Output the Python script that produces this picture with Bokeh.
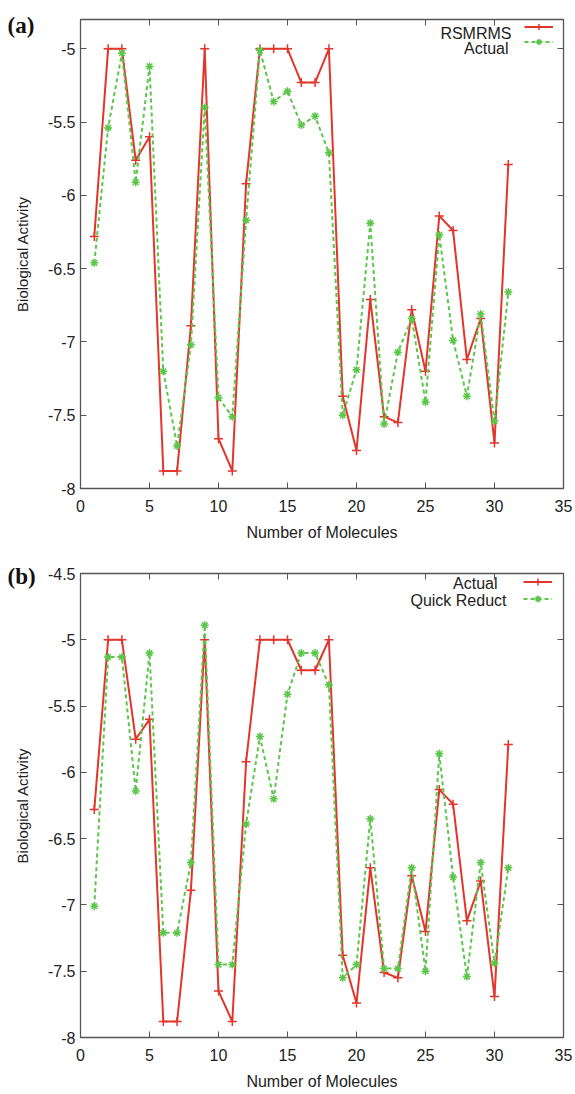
from bokeh.plotting import figure
from bokeh.layouts import column
from bokeh.models import (FixedTicker, LinearAxis, Range1d, Legend, LegendItem,
                          Label, CustomJSTickFormatter)
from bokeh.core.properties import value
from bokeh.embed import file_html
from bokeh.resources import INLINE

# ---------------- data ----------------
molecules = list(range(1, 32))

# panel (a)
rsmrms_a = [-6.28, -5.00, -5.00, -5.76, -5.60, -7.88, -7.88, -6.89, -5.00, -7.66,
            -7.88, -5.92, -5.00, -5.00, -5.00, -5.23, -5.23, -5.00, -7.37, -7.74,
            -6.71, -7.51, -7.55, -6.78, -7.20, -6.14, -6.24, -7.12, -6.84, -7.69, -5.79]
actual_a = [-6.46, -5.54, -5.03, -5.91, -5.12, -7.20, -7.71, -7.02, -5.40, -7.38,
            -7.51, -6.17, -5.01, -5.36, -5.29, -5.52, -5.46, -5.71, -7.50, -7.19,
            -6.19, -7.56, -7.07, -6.84, -7.41, -6.27, -6.99, -7.37, -6.81, -7.54, -6.66]

# panel (b)
actual_b = [-6.28, -5.00, -5.00, -5.75, -5.60, -7.88, -7.88, -6.89, -5.00, -7.65,
            -7.88, -5.92, -5.00, -5.00, -5.00, -5.23, -5.23, -5.00, -7.38, -7.74,
            -6.72, -7.51, -7.55, -6.78, -7.20, -6.13, -6.24, -7.12, -6.82, -7.69, -5.79]
quick_reduct_b = [-7.01, -5.13, -5.13, -6.14, -5.10, -7.21, -7.21, -6.68, -4.89, -7.45,
                  -7.45, -6.39, -5.73, -6.20, -5.41, -5.10, -5.10, -5.34, -7.55, -7.45,
                  -6.35, -7.48, -7.48, -6.72, -7.50, -5.86, -6.79, -7.54, -6.68, -7.44, -6.72]

x_ticks = [0, 5, 10, 15, 20, 25, 30, 35]
x_tick_labels = ["0", "5", "10", "15", "20", "25", "30", "35"]
y_ticks_a = [-8, -7.5, -7, -6.5, -6, -5.5, -5]
y_tick_labels_a = ["-8", "-7.5", "-7", "-6.5", "-6", "-5.5", "-5"]
y_ticks_b = [-8, -7.5, -7, -6.5, -6, -5.5, -5, -4.5]
y_tick_labels_b = ["-8", "-7.5", "-7", "-6.5", "-6", "-5.5", "-5", "-4.5"]

RED = "#e2352b"
GREEN = "#5bc64a"
FRAME = "#555555"
TEXT = "#222222"
SANS = "Liberation Sans"

LABEL_CODE = """
const i = tks.findIndex(t => Math.abs(t - tick) < 1e-9);
return i >= 0 ? lbls[i] : tick.toString();
"""


def fmt(tick_list, label_list):
    return CustomJSTickFormatter(args=dict(tks=tick_list, lbls=label_list),
                                 code=LABEL_CODE)


def blank():
    return CustomJSTickFormatter(code="return '';")


def style_axis(ax, tick_list, formatter, show_labels=True):
    ax.ticker = FixedTicker(ticks=tick_list)
    ax.formatter = formatter
    ax.major_tick_in = 6
    ax.major_tick_out = 0
    ax.major_tick_line_color = FRAME
    ax.major_tick_line_width = 1
    ax.minor_tick_line_color = None
    ax.axis_line_color = None
    if show_labels:
        ax.major_label_text_font = SANS
        ax.major_label_text_font_size = "16px"
        ax.major_label_text_color = TEXT
    else:
        ax.major_label_text_font_size = "0px"
        ax.major_label_standoff = 0


def panel(height, y_top, y_ticks, y_labels, border_top, border_bottom,
          red_y, green_y, red_name, green_name, tag, tag_standoff, leg_pad,
          row_h, leg_standoff, text_rights, frame_h):
    p = figure(width=573, height=height, title=tag,
               x_range=Range1d(0, 35), y_range=Range1d(-8, y_top),
               output_backend="svg", toolbar_location=None,
               min_border_left=80, min_border_right=10,
               min_border_top=border_top, min_border_bottom=border_bottom,
               background_fill_color="white", border_fill_color=None)
    # panel tag "(a)"/"(b)" as the plot title, pulled down beside the frame
    p.title.align = "left"
    p.title.offset = -73
    p.title.standoff = tag_standoff
    p.title.text_font = "Liberation Serif"
    p.title.text_font_style = "bold"
    p.title.text_font_size = "23px"
    p.title.text_color = "#111111"

    p.grid.visible = False
    p.outline_line_color = FRAME
    p.outline_line_width = 1.3

    style_axis(p.xaxis[0], x_ticks, fmt(x_ticks, x_tick_labels))
    p.xaxis[0].major_label_standoff = 11
    p.xaxis[0].axis_label = "Number of Molecules"
    p.xaxis[0].axis_label_standoff = 9
    p.xaxis[0].axis_label_text_font_size = "16px"
    style_axis(p.yaxis[0], y_ticks, fmt(y_ticks, y_labels))
    p.yaxis[0].major_label_standoff = 5
    p.yaxis[0].axis_label = "Biological Activity"
    p.yaxis[0].axis_label_standoff = 14
    p.yaxis[0].axis_label_text_font_size = "15px"
    for ax in (p.xaxis[0], p.yaxis[0]):
        ax.axis_label_text_font = SANS
        ax.axis_label_text_font_style = "normal"
        ax.axis_label_text_color = TEXT

    top_ax = LinearAxis()
    style_axis(top_ax, x_ticks, blank(), show_labels=False)
    p.add_layout(top_ax, "above")
    right_ax = LinearAxis()
    style_axis(right_ax, y_ticks, blank(), show_labels=False)
    p.add_layout(right_ax, "right")

    l1 = p.line(molecules, red_y, line_color=RED, line_width=2)
    s1 = p.scatter(molecules, red_y, marker="cross", size=9,
                   line_color=RED, line_width=1.5)
    l2 = p.line(molecules, green_y, line_color=GREEN, line_width=2,
                line_dash="4 3")
    s2 = p.scatter(molecules, green_y, marker="asterisk", size=8,
                   line_color=GREEN, line_width=1.5)

    # legend holds only the line samples; names are drawn to their left
    legend = Legend(items=[LegendItem(label=value(" "), renderers=[l1, s1]),
                           LegendItem(label=value(" "), renderers=[l2, s2])],
                    location="top_right", margin=0, padding=leg_pad, spacing=0,
                    glyph_width=29, glyph_height=row_h, label_height=row_h,
                    label_width=0, label_standoff=leg_standoff,
                    label_text_font_size="8px", label_text_alpha=0,
                    border_line_color=None, background_fill_alpha=0)
    p.add_layout(legend)

    row1 = frame_h - leg_pad - row_h / 2
    for name, xr, yy in ((red_name, text_rights[0], row1),
                         (green_name, text_rights[1], row1 - row_h)):
        p.add_layout(Label(x=xr, y=yy, x_units="screen", y_units="screen",
                           text=name, text_align="right", text_baseline="middle",
                           text_font=SANS, text_font_size="16px",
                           text_color=TEXT))
    return p


pa = panel(545, -4.8, y_ticks_a, y_tick_labels_a, 19, 57,
           rsmrms_a, actual_a, "RSMRMS", "Actual", "(a)", -36,
           6, 15, 10, (431, 428), 469)
pb = panel(547, -4.5, y_ticks_b, y_tick_labels_b, 28, 51,
           actual_b, quick_reduct_b, "Actual", "Quick Reduct", "(b)", -31,
           5, 17, 11, (417, 426), 468)

layout = column(pa, pb, spacing=0)
open("out.html", "w").write(file_html(layout, INLINE))
